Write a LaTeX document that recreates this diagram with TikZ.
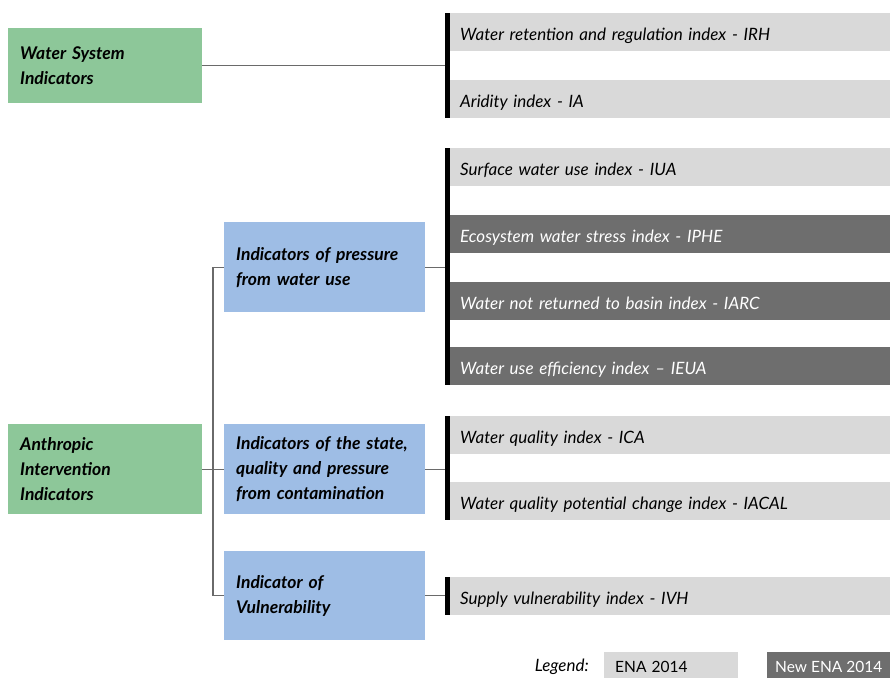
\documentclass[tikz,border=0pt]{standalone}
\usepackage{fontspec}
\setmainfont{Lato}
\usetikzlibrary{positioning}

\definecolor{sysgreen}{HTML}{8DC799}
\definecolor{grpblue}{HTML}{9EBDE5}
\definecolor{oldgray}{HTML}{D9D9D9}
\definecolor{newgray}{HTML}{6E6E6E}
\definecolor{linkgray}{HTML}{6A6A6A}

\tikzset{
  topbox/.style={rectangle,fill=sysgreen,anchor=north west,minimum width=194pt,
    minimum height=75pt,text width=170pt,inner xsep=12pt,align=left,
    font=\fontsize{17.5}{25}\selectfont\bfseries\itshape},
  grpbox/.style={topbox,fill=grpblue,minimum width=201pt,minimum height=90pt,
    text width=177pt},
  idxbox/.style={rectangle,fill=oldgray,anchor=north west,minimum width=440pt,
    minimum height=38pt,text width=420pt,inner xsep=10pt,align=left,
    text height=17pt,text depth=1pt,
    font=\fontsize{17}{20}\selectfont\itshape},
  newbox/.style={idxbox,fill=newgray,text=white},
  legbox/.style={rectangle,fill=oldgray,anchor=north west,minimum height=26pt,
    inner xsep=0pt,text height=15pt,text depth=0pt,font=\fontsize{15.5}{18}\selectfont},
  bar/.style={rectangle,fill=black,anchor=north west,minimum width=5pt,inner sep=0pt},
  link/.style={draw=linkgray,line width=1.2pt}
}

\begin{document}
\begin{tikzpicture}[x=1pt,y=-1pt]
 \useasboundingbox (0,0) rectangle (890,678);
 % left column
 \node[topbox] (wsi) at (8,28) {Water System\\Indicators};
 \node[topbox,minimum height=90pt] (aii) at (8,424) {Anthropic\\Intervention\\Indicators};
 % middle column
 \node[grpbox] (pwu) at (224,222) {Indicators of pressure\\from water use};
 \node[grpbox] (sqp) at (224,424) {Indicators of the state,\\quality and pressure\\from contamination};
 \node[grpbox,minimum height=89pt] (vul) at (224,551) {Indicator of\\Vulnerability};
 % bars
 \node[bar,minimum height=105pt] (bar1) at (445,13) {};
 \node[bar,minimum height=237pt] (bar2) at (445,148) {};
 \node[bar,minimum height=104pt] (bar3) at (445,416) {};
 \node[bar,minimum height=38pt] (bar4) at (445,577) {};
 % indices
 \node[idxbox] (irh) at (450,13) {Water retention and regulation index - IRH};
 \node[idxbox] (ia) at (450,80) {Aridity index - IA};
 \node[idxbox] (iua) at (450,148) {Surface water use index - IUA};
 \node[newbox] (iphe) at (450,215) {Ecosystem water stress index - IPHE};
 \node[newbox] (iarc) at (450,282) {Water not returned to basin index - IARC};
 \node[newbox] (ieua) at (450,347) {Water use efficiency index -- IEUA};
 \node[idxbox] (ica) at (450,416) {Water quality index - ICA};
 \node[idxbox] (iacal) at (450,482) {Water quality potential change index - IACAL};
 \node[idxbox] (ivh) at (450,577) {Supply vulnerability index - IVH};
 % legend
 \node[legbox,minimum width=134pt,text width=112pt,align=left] (leg1) at (604,652) {ENA 2014};
 \node[legbox,fill=newgray,text=white,minimum width=123pt] (leg2) at (767,652) {New ENA 2014};
 \node[left=15pt of leg1.west,anchor=east,font=\fontsize{17}{20}\selectfont\itshape,
   inner sep=0pt,yshift=-2pt] (legtxt) {Legend:};
 % links
 \draw[link] (wsi.east) -- (bar1.west |- wsi.east);
 \draw[link] (pwu.west) -- ++(-11,0) |- (vul.west);
 \draw[link] (aii.east) -- (sqp.west);
 \draw[link] (pwu.east) -- (bar2.west |- pwu.east);
 \draw[link] (sqp.east) -- (bar3.west |- sqp.east);
 \draw[link] (vul.east) -- (bar4.west |- vul.east);
\end{tikzpicture}
\end{document}
